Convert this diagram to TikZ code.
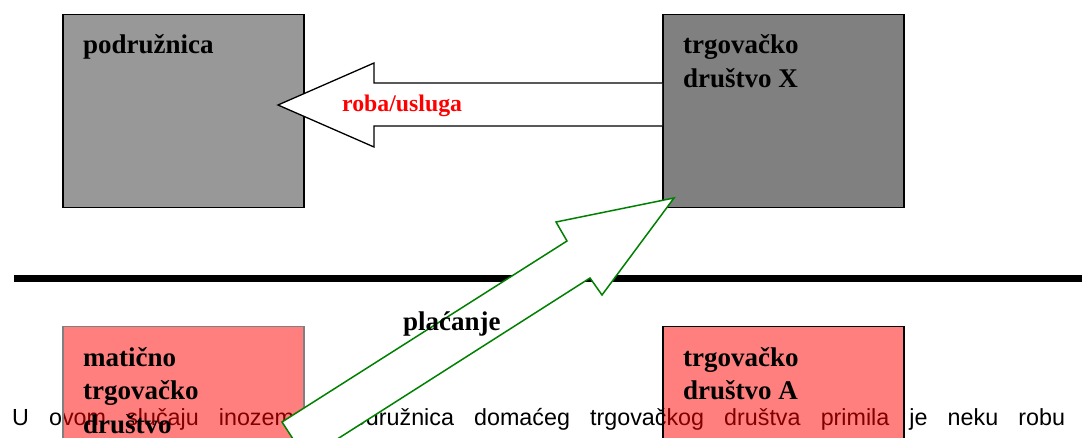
\documentclass[tikz,border=0pt]{standalone}
\usepackage{fontspec}
\setmainfont{Liberation Serif}
\setsansfont{Liberation Sans}
\usepackage{xcolor}
\usepackage{tikz}
\usetikzlibrary{positioning}
\definecolor{podgray}{RGB}{152,152,152}
\definecolor{paygreen}{RGB}{0,128,0}
\tikzset{
    box/.style = {rectangle, draw=black, line width=1.5pt, inner sep=0pt, anchor=north west, minimum width=241pt, minimum height=193pt},
    boxpod/.style = {box, fill=podgray},
    boxfirm/.style = {box, fill=gray},
    boxpink/.style = {box, fill=red, fill opacity=0.5},
    lbl/.style = {anchor=base west, inner sep=0pt, align=left, font=\bfseries\fontsize{27}{33.5}\selectfont},
}

\begin{document}
\begin{tikzpicture}[
	x=1pt,
	y=-1pt
]
\tikzset{
    bodytext/.style = {anchor=base west, inner sep=0pt, font=\sffamily\fontsize{23.3}{28}\selectfont},
    goodsarrow/.style = {line width=1.3pt, draw=black, fill=white},
    payarrow/.style = {line width=1.5pt, draw=paygreen, fill=white, line join=miter},
}
\useasboundingbox (0,0) rectangle (1082,438);
\clip (0,0) rectangle (1082,438);
\node[bodytext] (txt) at (12,425) {\makebox[1053pt][s]{U ovom slučaju inozemna podružnica domaćeg trgovačkog društva primila je neku robu}};
\draw[line width=6.5pt] (14,278.5) -- (1082,278.5);
%
\node[boxpod] (pod) at (62,14) {};
\node[boxfirm] (x) at (662,14) {};
\node[boxpink, draw=gray] (mat) at (62,326) {};
\node[boxpink] (a) at (662,326) {};
%
\node[lbl] (podl) at (83,54) {podružnica};
\node[lbl] (xl) at (683,87.5) {trgovačko\\društvo X};
\node[lbl] (matl) at (83,433) {matično\\trgovačko\\društvo};
\node[lbl] (al) at (683,399.5) {trgovačko\\društvo A};
%
\draw[goodsarrow] (662,83) -- (374,83) -- (374,63) -- (278,105) -- (374,147) -- (374,126) -- (662,126);
\node[anchor=base west, inner sep=0pt, text=red, font=\bfseries\fontsize{23.8}{28}\selectfont] (goods) at (342,111.5) {roba/usluga};
%
\draw[payarrow] (674,198) -- (556,222) -- (567,241) -- (282,422) -- (306,459) -- (590,278) -- (602,295) -- cycle;
\node[lbl] (pay) at (403,331) {plaćanje};
\end{tikzpicture}
\end{document}
